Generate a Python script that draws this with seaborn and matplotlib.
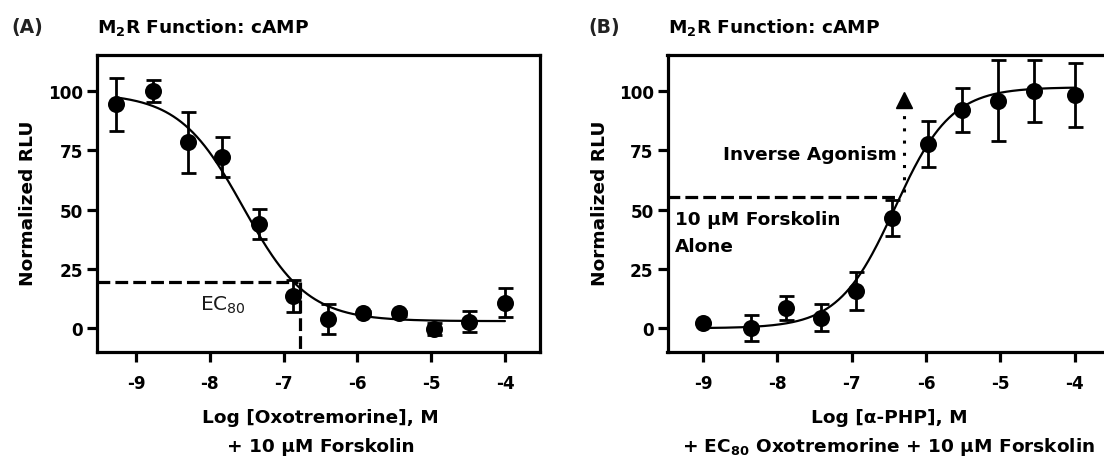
import numpy as np
import pandas as pd
import matplotlib
matplotlib.use("Agg")
import matplotlib.pyplot as plt
import matplotlib.transforms as mtransforms
import seaborn as sns

# (A) oxotremorine concentration-response
oxo_log = [-9.27, -8.77, -8.30, -7.83, -7.34, -6.87, -6.40, -5.92, -5.44, -4.96, -4.49, -4.00]
oxo_rlu = [94.4, 100.0, 78.3, 72.2, 43.9, 13.7, 3.9, 6.4, 6.3, -0.3, 2.8, 10.7]
oxo_sem = [11.2, 4.7, 12.7, 8.3, 6.3, 6.8, 6.3, 1.0, 1.0, 2.5, 4.3, 6.1]
# fitted 4-parameter logistic
oxo_fit = dict(bottom=3.0, top=99.0, logec50=-7.55, hill=-1.0)

# (B) alpha-PHP on top of EC80 oxotremorine
php_log = [-9.00, -8.36, -7.89, -7.41, -6.94, -6.46, -5.98, -5.52, -5.03, -4.55, -4.00]
php_rlu = [2.1, 0.0, 8.4, 4.5, 15.8, 46.3, 77.6, 91.9, 95.8, 100.0, 98.2]
php_sem = [0.0, 5.5, 5.0, 5.8, 8.0, 7.6, 9.5, 9.2, 17.0, 13.0, 13.4]
php_fit = dict(bottom=0.0, top=101.5, logec50=-6.42, hill=1.15)

ec80_level = 19.6
ec80_log = -6.78
forskolin_level = 55.1

y_ticks = [0, 25, 50, 75, 100]
x_ticks = [-9, -8, -7, -6, -5, -4]

MU = "\u03bc"

sns.set_theme(style="ticks")
plt.rcParams["font.family"] = ["DejaVu Sans"]
plt.rcParams["font.weight"] = "bold"
plt.rcParams["mathtext.fontset"] = "dejavusans"
for key in ["text.color", "axes.labelcolor", "xtick.color", "ytick.color", "axes.edgecolor"]:
    plt.rcParams[key] = "black"

FS = 13.3
TICK_FS = 12.2
W, H = 1104, 460


def logistic(x, bottom, top, logec50, hill):
    return bottom + (top - bottom) / (1 + 10 ** ((logec50 - x) * hill))


def draw_panel(ax, xs, ys, errs, fit):
    grid = np.linspace(min(xs), max(xs), 300)
    curve = pd.DataFrame({"x": grid, "y": logistic(grid, **fit)})
    sns.lineplot(data=curve, x="x", y="y", ax=ax, color="black", lw=1.6, zorder=2)
    ax.errorbar(xs, ys, yerr=errs, fmt="none", ecolor="black", elinewidth=2.0,
                capsize=5.4, capthick=2.0, zorder=2)
    pts = pd.DataFrame({"x": xs, "y": ys})
    sns.scatterplot(data=pts, x="x", y="y", ax=ax, color="black", s=150,
                    linewidth=0, zorder=3)
    ax.set_ylim(-10.0, 115.3)
    ax.set_xticks(x_ticks)
    ax.set_xticklabels([str(t) for t in x_ticks])
    ax.set_yticks(y_ticks)
    ax.set_xlabel("")
    ax.set_ylabel("")
    for s in ax.spines.values():
        s.set_linewidth(2.3)
        s.set_color("black")
    ax.tick_params(axis="both", width=2.3, length=7.5, labelsize=TICK_FS,
                   color="black", labelcolor="black")
    ax.tick_params(axis="y", pad=2.5)
    ax.tick_params(axis="x", pad=8)
    for lbl in ax.get_xticklabels() + ax.get_yticklabels():
        lbl.set_fontweight("bold")


fig = plt.figure(figsize=(W / 100, H / 100), dpi=100)
bottom = 1 - 353 / H
height = 297.5 / H
axA = fig.add_axes([96.7 / W, bottom, 443.3 / W, height])
axB = fig.add_axes([667.5 / W, bottom, 451.8 / W, height])

draw_panel(axA, oxo_log, oxo_rlu, oxo_sem, oxo_fit)
axA.set_xlim(-9.535, -3.525)
draw_panel(axB, php_log, php_rlu, php_sem, php_fit)
axB.set_xlim(-9.48, -3.40)

# EC80 marker lines on panel A
dash = (0, (4, 1.6))
axA.plot([-9.535, -6.81], [ec80_level, ec80_level], color="black", lw=2.3, ls=dash, zorder=1)
axA.plot([ec80_log, ec80_log], [ec80_level, -8.7], color="black", lw=2.3, ls=dash, zorder=1)
axA.text(-8.14, 10.2, r"EC$_\mathregular{80}$", fontsize=14.5, fontweight="normal",
         ha="left", va="center", color="#1a1a1a")

# forskolin-alone level and inverse agonism arrow on panel B
axB.plot([-9.48, -6.37], [forskolin_level, forskolin_level], color="black", lw=2.3, ls=dash, zorder=1)
axB.plot([-6.30, -6.30], [57.5, 91.5], color="black", lw=2.2, ls=(0, (1, 3)), zorder=1)
axB.plot([-6.30], [96.3], marker="^", color="black", markersize=12, ls="none")
axB.text(-6.39, 73.6, "Inverse Agonism", fontsize=FS, ha="right", va="center")
axB.text(-9.38, 46.0, "10 " + MU + "M Forskolin", fontsize=FS, ha="left", va="center")
axB.text(-9.38, 34.8, "Alone", fontsize=FS, ha="left", va="center")

# titles and panel letters
title = r"M$_\mathbf{2}$R Function: cAMP"
fig.text(11 / W, 1 - 33.5 / H, "(A)", fontsize=13.5, ha="left", va="baseline", color="#222222")
fig.text(96.7 / W, 1 - 33.5 / H, title, fontsize=FS, ha="left", va="baseline")
fig.text(588 / W, 1 - 33.5 / H, "(B)", fontsize=13.5, ha="left", va="baseline", color="#222222")
fig.text(667.5 / W, 1 - 33.5 / H, title, fontsize=FS, ha="left", va="baseline")

# y labels
fig.text(28.5 / W, 1 - 203.3 / H, "Normalized RLU", rotation=90, fontsize=FS, ha="center", va="center")
fig.text(600 / W, 1 - 203.3 / H, "Normalized RLU", rotation=90, fontsize=FS, ha="center", va="center")

# two-line x labels, centred on the tick range
for ax, line1, line2 in [
    (axA, "Log [Oxotremorine], M", "+ 10 " + MU + "M Forskolin"),
    (axB, "Log [\u03b1-PHP], M", r"+ EC$_\mathbf{80}$ Oxotremorine + 10 " + MU + "M Forskolin"),
]:
    tr = mtransforms.blended_transform_factory(ax.transData, fig.transFigure)
    ax.text(-6.5, 1 - 423.3 / H, line1, transform=tr, fontsize=FS, ha="center", va="baseline")
    ax.text(-6.5, 1 - 452.5 / H, line2, transform=tr, fontsize=FS, ha="center", va="baseline")

fig.savefig("out.png", dpi=100)
